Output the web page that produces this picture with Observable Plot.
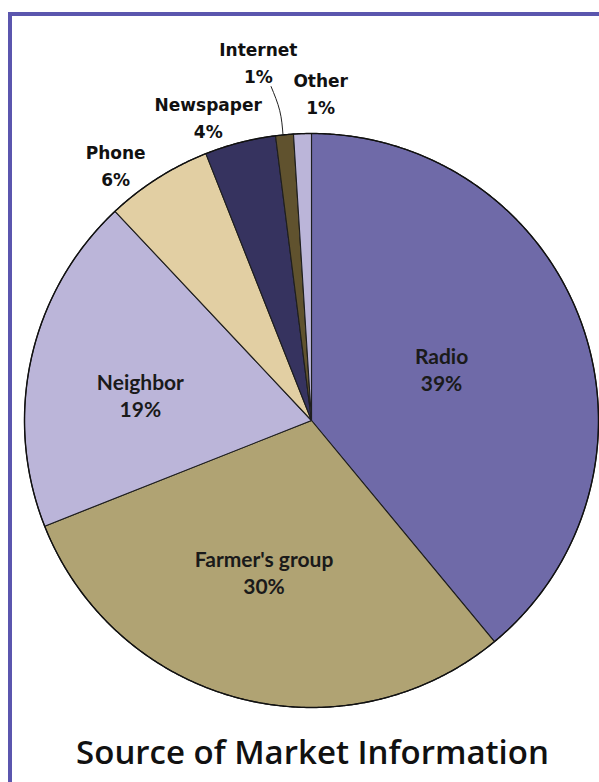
<!DOCTYPE html>
<html>
<head>
<meta charset="utf-8">
<script src="https://cdn.jsdelivr.net/npm/d3@7"></script>
<script src="https://cdn.jsdelivr.net/npm/@observablehq/plot@0.6"></script>
<style>
  html, body { margin: 0; padding: 0; background: #fff; overflow: hidden; width: 599px; height: 782px; }
  #frame { position: absolute; left: 8px; top: 12px; width: 800px; height: 1000px; border: 4px solid #5b56ae; box-sizing: border-box; }
  #chart { position: absolute; left: 0; top: 0; }
  #title { position: absolute; left: 0; width: 625px; top: 735px; text-align: center;
           font-family: "Open Sans", sans-serif; font-weight: 600; font-size: 33px; line-height: 1; color: #111; }
</style>
</head>
<body>
<div id="frame"></div>
<div id="chart"></div>
<div id="title">Source of Market Information</div>
<script>
// ---- data ----
const categories = ["Radio", "Farmer's group", "Neighbor", "Phone", "Newspaper", "Internet", "Other"];
const shares = [39, 30, 19, 6, 4, 1, 1];
const sliceColors = ["#6f6aa8", "#b0a373", "#bbb5d9", "#e2cfa3", "#36335f", "#60522e", "#bbb5d9"];

// ---- layout (label placement relative to each slice's mid angle) ----
const insideLabels = ["Radio", "Farmer's group", "Neighbor"];
const labelRadius = { "Radio": 0.488, "Farmer's group": 0.553, "Neighbor": 0.603,
                      "Phone": 1.126, "Newspaper": 1.122, "Internet": 1.268, "Other": 1.147 };
const labelShift = { "Radio": -2, "Farmer's group": 3, "Neighbor": -4,
                     "Phone": -4.9, "Newspaper": -4.3, "Internet": -3, "Other": 3.4 };

// ---- geometry derived from the data ----
const total = d3.sum(shares);
const rad = (deg) => deg * Math.PI / 180;
const polar = (deg, r) => ({ x: r * Math.sin(rad(deg)), y: r * Math.cos(rad(deg)) });

let acc = 0;
const slices = categories.map((name, i) => {
  const a0 = acc / total * 360;
  acc += shares[i];
  const a1 = acc / total * 360;
  return { name, share: shares[i], a0, a1, mid: (a0 + a1) / 2 };
});

const polyPoints = [];
for (const s of slices) {
  polyPoints.push({ name: s.name, ...polar(0, 0) });
  const steps = Math.max(2, Math.ceil((s.a1 - s.a0) / 0.25));
  for (let k = 0; k <= steps; k++) {
    const a = s.a0 + (s.a1 - s.a0) * k / steps;
    polyPoints.push({ name: s.name, ...polar(a, 1) });
  }
}

const outline = d3.range(0, 361, 0.5).map(a => polar(a, 1));

const labels = slices.map(s => {
  const p = polar(s.mid + labelShift[s.name], labelRadius[s.name]);
  return { ...p, name: s.name, text: s.name + "\n" + s.share + "%", inside: insideLabels.includes(s.name) };
});

const internet = slices.find(s => s.name === "Internet");
const leader = [
  polar(internet.mid - 1.5, 1.172),
  polar(internet.mid - 0.45, 1.085),
  polar(internet.mid - 0.3, 1.0)
];

const chart = Plot.plot({
  width: 599,
  height: 725,
  marginLeft: 24,
  marginRight: 1,
  marginTop: 133,
  marginBottom: 18,
  x: { domain: [-1, 1], axis: null },
  y: { domain: [-1, 1], axis: null },
  color: { type: "ordinal", domain: categories, range: sliceColors },
  style: { background: "transparent" },
  marks: [
    Plot.line(polyPoints, { x: "x", y: "y", z: "name", fill: "name", stroke: "#1e1e1e", strokeWidth: 1.1, curve: "linear-closed" }),
    Plot.line(outline, { x: "x", y: "y", stroke: "#111", strokeWidth: 1.4 }),
    Plot.line(leader, { x: "x", y: "y", stroke: "#222", strokeWidth: 1, curve: "natural" }),
    Plot.text(labels.filter(d => d.inside), { x: "x", y: "y", text: "text", lineAnchor: "middle", lineHeight: 1.3,
      fontFamily: "Lato, sans-serif", fontWeight: 700, fontSize: 21, fill: "#1a1a1a" }),
    Plot.text(labels.filter(d => !d.inside), { x: "x", y: "y", text: "text", lineAnchor: "middle", lineHeight: 1.6,
      fontFamily: "DejaVu Sans, sans-serif", fontWeight: 700, fontSize: 17, fill: "#111" })
  ]
});
document.getElementById("chart").appendChild(chart);
</script>
</body>
</html>
